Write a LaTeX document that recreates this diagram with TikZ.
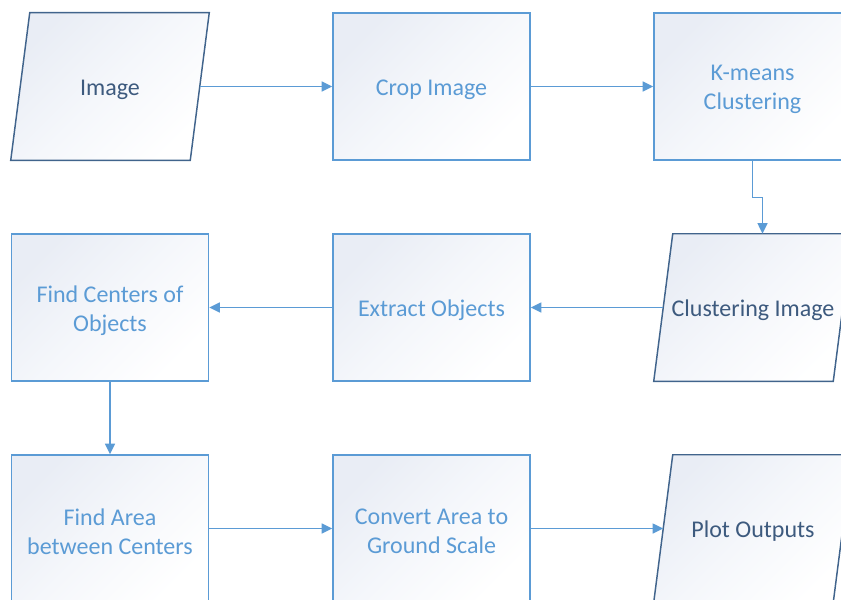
\documentclass[tikz,border=0pt]{standalone}
\usepackage{fontspec}
\setmainfont{Carlito}
\usetikzlibrary{arrows.meta,calc}

\definecolor{lineblue}{HTML}{5B9BD5}
\definecolor{darkblue}{HTML}{41648C}
\definecolor{textdark}{HTML}{3D5A7E}
\definecolor{shadetop}{RGB}{233,237,245}
\definecolor{shademid}{RGB}{245,247,251}

\tikzset{
  every node/.style={font=\fontsize{18}{21.75}\selectfont, align=center},
  gradfill/.style={top color=shadetop, bottom color=white, middle color=shademid,
    shading angle=45},
  procbox/.style={rectangle, draw=lineblue, line width=1.1pt, gradfill,
    minimum width=147.75pt, minimum height=110.25pt, inner sep=0pt},
  iobox/.style={rectangle, minimum width=148.5pt, minimum height=110.25pt,
    inner sep=0pt},
  ioshape/.style={draw=darkblue, line width=1.1pt, gradfill},
  proctext/.style={text=lineblue, yshift=-2.25pt},
  iotext/.style={text=textdark, yshift=-2.25pt},
  arr/.style={draw=lineblue, line width=1.1pt,
    -{Triangle[length=8pt,width=7.5pt]}},
}

% draws the slanted parallelogram of an io node and names its edge midpoints
\newcommand{\ioframe}[1]{%
  \path[ioshape] ($(#1.north west)+(19,0)$) -- (#1.north east)
    -- ($(#1.south east)+(-19,0)$) -- (#1.south west) -- cycle;
  \coordinate (#1-top) at ($(#1.north)+(9.5,0)$);
  \coordinate (#1-left) at ($(#1.west)+(9.5,0)$);
  \coordinate (#1-right) at ($(#1.east)+(-9.5,0)$);
}

\begin{document}
\begin{tikzpicture}[x=0.75pt, y=-0.75pt]
  \useasboundingbox (0,0) rectangle (841,599);
  \clip (0,0) rectangle (841,599);

  % input / output parallelograms
  \node[iobox] (img)  at (110,86.5) {};
  \node[iobox] (clus) at (753,307.5) {};
  \node[iobox] (plot) at (753,528.5) {};
  \ioframe{img}
  \ioframe{clus}
  \ioframe{plot}
  \node[iotext] (imgT)  at (img)  {Image};
  \node[iotext] (clusT) at (clus) {Clustering Image};
  \node[iotext] (plotT) at (plot) {Plot Outputs};

  % process boxes
  \node[procbox] (crop) at (431.5,86.5) {};
  \node[procbox] (km)   at (752.5,86.5) {};
  \node[procbox] (ext)  at (431.5,307.5) {};
  \node[procbox] (ctr)  at (110,307.5) {};
  \node[procbox] (area) at (110,528.5) {};
  \node[procbox] (conv) at (431.5,528.5) {};
  \node[proctext] (cropT) at (crop) {Crop Image};
  \node[proctext] (kmT)   at (km)   {K-means\\Clustering};
  \node[proctext] (extT)  at (ext)  {Extract Objects};
  \node[proctext] (ctrT)  at (ctr)  {Find Centers of\\Objects};
  \node[proctext] (areaT) at (area) {Find Area\\between Centers};
  \node[proctext] (convT) at (conv) {Convert Area to\\Ground Scale};

  % connectors
  \draw[arr] (img-right) -- (crop.west);
  \draw[arr] (crop.east) -- (km.west);
  \coordinate (jog) at ($(km.south)+(0,37)$);
  \draw[arr] (km.south) -- (jog) -| (clus-top);
  \draw[arr] (clus-left) -- (ext.east);
  \draw[arr] (ext.west) -- (ctr.east);
  \draw[arr] (ctr.south) -- (area.north);
  \draw[arr] (area.east) -- (conv.west);
  \draw[arr] (conv.east) -- (plot-left);
\end{tikzpicture}
\end{document}
